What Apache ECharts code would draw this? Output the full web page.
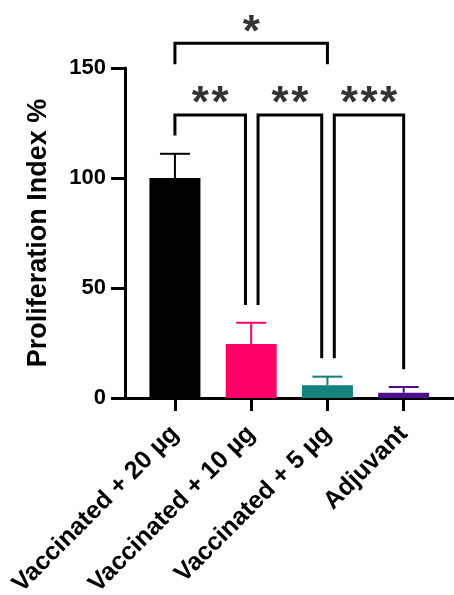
<!DOCTYPE html>
<html>
<head>
<meta charset="utf-8">
<script src="https://cdn.jsdelivr.net/npm/echarts@6/dist/echarts.min.js"></script>
<style>
html,body{margin:0;padding:0;background:#fff;}
#chart{width:454px;height:595px;}
</style>
</head>
<body>
<div id="chart"></div>
<script>
// ---- data ----
const categories = ['Vaccinated + 20 µg', 'Vaccinated + 10 µg', 'Vaccinated + 5 µg', 'Adjuvant'];
const means = [100, 24.5, 5.8, 2.4];
const errors = [11, 9.7, 3.9, 2.6];
const barColors = ['#000000', '#FF0066', '#12827A', '#4B0C8E'];
const yTicks = [0, 50, 100, 150];
// significance brackets: group from / to, bracket top, left & right leg ends (y values), star count
const bracketFrom = [0, 0, 1, 2];
const bracketTo = [2, 1, 2, 3];
const bracketTop = [161.2, 128.6, 128.6, 128.6];
const bracketLegLeft = [152.4, 120, 43, 18.8];
const bracketLegRight = [152.4, 43, 18.8, 13.8];
const bracketStars = [1, 2, 2, 3];
const bracketRow = [1, 0, 0, 0]; // 1 = upper row, 0 = lower row

// ---- layout constants ----
const INSET_L = 0.09, INSET_R = 0.075, STAR_SP = 0.258, STAR_ABOVE = 9;
const FONT = '"Liberation Sans", Arial, sans-serif';

const series = [];
series.push({
  type: 'bar',
  barWidth: 51,
  data: means.map((v, i) => ({ value: [i, v], itemStyle: { color: barColors[i] } })),
  z: 2
});
series.push({
  type: 'custom',
  data: means.map((v, i) => [i, v, errors[i]]),
  renderItem: function (params, api) {
    const i = params.dataIndex;
    const x = api.value(0), y = api.value(1), e = api.value(2);
    const p0 = api.coord([x, y]);
    const p1 = api.coord([x, y + e]);
    const hw = 15;
    return {
      type: 'group',
      children: [
        { type: 'line', shape: { x1: p0[0], y1: p0[1], x2: p1[0], y2: p1[1] }, style: { stroke: barColors[i], lineWidth: 2 } },
        { type: 'line', shape: { x1: p1[0] - hw, y1: p1[1], x2: p1[0] + hw, y2: p1[1] }, style: { stroke: barColors[i], lineWidth: 2 } }
      ]
    };
  },
  z: 3
});
const starPts = [];
bracketFrom.forEach((f, k) => {
  const t = bracketTo[k];
  const lower = bracketRow[k] === 0;
  const x1 = f + (lower && f !== 0 ? INSET_L : 0);
  const x2 = t - (lower && t !== categories.length - 1 ? INSET_R : 0);
  series.push({
    type: 'line',
    clip: false,
    symbol: 'none',
    silent: true,
    lineStyle: { color: '#000', width: 3, cap: 'square', join: 'miter' },
    data: [[x1, bracketLegLeft[k]], [x1, bracketTop[k]], [x2, bracketTop[k]], [x2, bracketLegRight[k]]],
    z: 4
  });
  const n = bracketStars[k];
  const cx = (x1 + x2) / 2;
  for (let s = 0; s < n; s++) {
    starPts.push([cx + (s - (n - 1) / 2) * STAR_SP, bracketTop[k] + STAR_ABOVE]);
  }
});
series.push({
  type: 'scatter',
  clip: false,
  symbolSize: 0,
  silent: true,
  data: starPts,
  label: {
    show: true, position: 'inside', formatter: '*',
    fontFamily: FONT, fontWeight: 'bold', fontSize: 44, color: '#000',
    offset: [0, 10]
  },
  z: 5
});

const chart = echarts.init(document.getElementById('chart'));
chart.setOption({
  animation: false,
  backgroundColor: '#fff',
  grid: { left: 125, right: 0, top: 68, bottom: 197, containLabel: false, outerBoundsMode: 'none' },
  xAxis: {
    type: 'value',
    min: -0.655,
    max: 3.66,
    splitLine: { show: false },
    axisLine: { show: true, onZero: false, lineStyle: { color: '#000', width: 3 } },
    axisTick: { show: true, customValues: [0, 1, 2, 3], length: 13, lineStyle: { color: '#000', width: 3 } },
    axisLabel: {
      customValues: [0, 1, 2, 3],
      formatter: v => categories[Math.round(v)],
      rotate: 45, margin: 32,
      fontFamily: FONT, fontWeight: 'bold', fontSize: 25, color: '#000'
    }
  },
  yAxis: {
    type: 'value',
    min: 0, max: 150, interval: 50,
    splitLine: { show: false },
    axisLine: { show: true, onZero: false, lineStyle: { color: '#000', width: 3 } },
    axisTick: { show: true, length: 14, lineStyle: { color: '#000', width: 3 } },
    axisLabel: { margin: 19, fontFamily: FONT, fontWeight: 'bold', fontSize: 22, color: '#000',
      customValues: yTicks },
    name: 'Proliferation Index %',
    nameLocation: 'middle',
    nameGap: 73,
    nameTextStyle: { fontFamily: FONT, fontWeight: 'bold', fontSize: 27, color: '#000' }
  },
  series: series
});
</script>
</body>
</html>
